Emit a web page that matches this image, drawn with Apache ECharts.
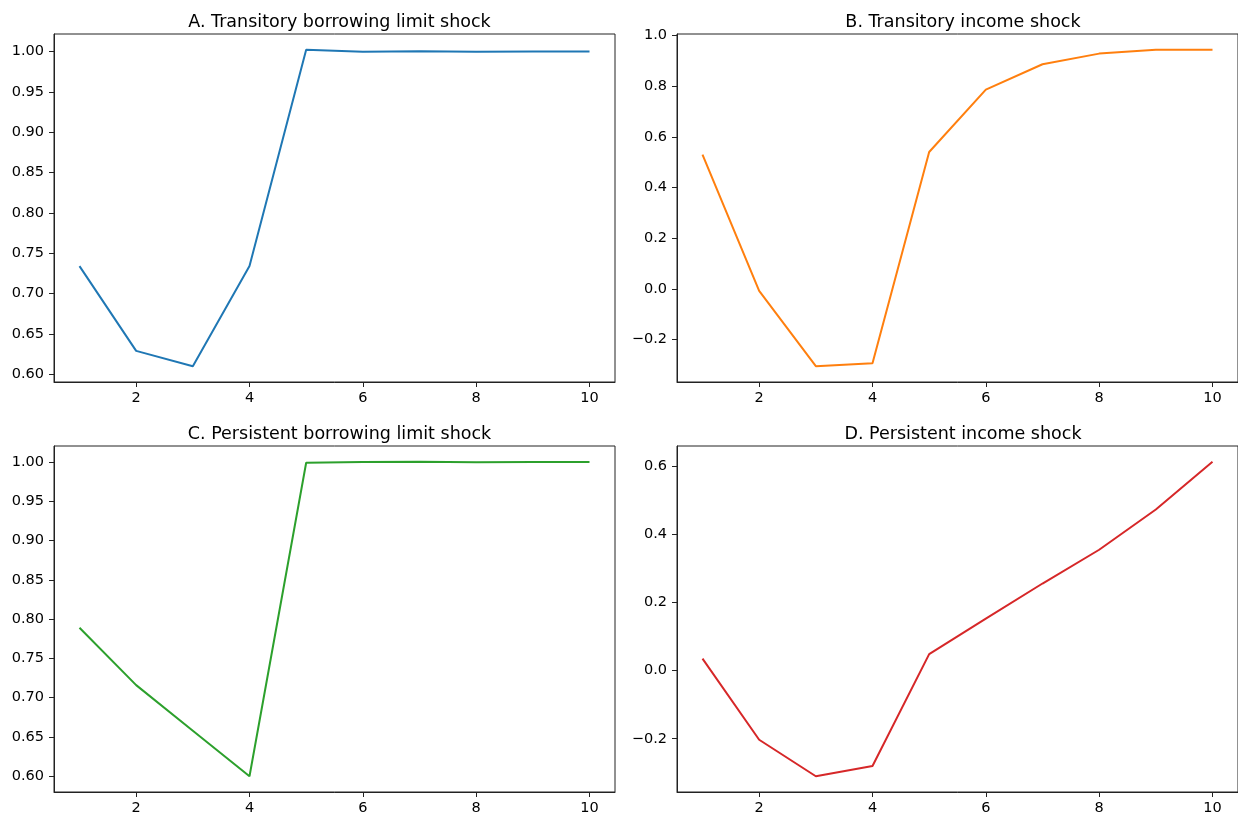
<!DOCTYPE html>
<html>
<head>
<meta charset="utf-8">
<script src="https://cdn.jsdelivr.net/npm/echarts@6/dist/echarts.min.js"></script>
<style>
html,body{margin:0;padding:0;background:#fff;}
#chart{width:1238px;height:816px;}
</style>
</head>
<body>
<div id="chart"></div>
<script>
// ---- data ----
const periods = [1, 2, 3, 4, 5, 6, 7, 8, 9, 10];
const titles = [
  "A. Transitory borrowing limit shock",
  "B. Transitory income shock",
  "C. Persistent borrowing limit shock",
  "D. Persistent income shock"
];
const transitoryBorrowing = [0.734, 0.629, 0.610, 0.734, 1.002, 0.9995, 1.0003, 0.9995, 1.0, 1.0];
const transitoryIncome    = [0.530, -0.008, -0.305, -0.293, 0.540, 0.786, 0.886, 0.928, 0.943, 0.943];
const persistentBorrowing = [0.789, 0.716, 0.658, 0.600, 0.999, 1.0, 1.0003, 0.9995, 1.0, 0.9998];
const persistentIncome    = [0.035, -0.203, -0.310, -0.280, 0.048, 0.152, 0.255, 0.354, 0.472, 0.612];
const xTicks = [2, 4, 6, 8, 10];
const yTicksA = [0.60, 0.65, 0.70, 0.75, 0.80, 0.85, 0.90, 0.95, 1.00];
const yTicksB = [-0.2, 0.0, 0.2, 0.4, 0.6, 0.8, 1.0];
const yTicksC = [0.60, 0.65, 0.70, 0.75, 0.80, 0.85, 0.90, 0.95, 1.00];
const yTicksD = [-0.2, 0.0, 0.2, 0.4, 0.6];

const seriesData = [transitoryBorrowing, transitoryIncome, persistentBorrowing, persistentIncome];
const yTicks = [yTicksA, yTicksB, yTicksC, yTicksD];
const decimals = [2, 1, 2, 1];
const colors = ['#1f77b4', '#ff7f0e', '#2ca02c', '#d62728'];

// ---- layout ----
const grids = [
  {left: 54, top: 34, width: 561, height: 348},
  {left: 677, top: 34, width: 562, height: 348},
  {left: 54, top: 446, width: 561, height: 347},
  {left: 677, top: 446, width: 562, height: 347}
];

const FONT = 'DejaVu Sans';
function margins(arr) {
  const lo = Math.min(...arr), hi = Math.max(...arr);
  const m = (hi - lo) * 0.05;
  return [lo - m, hi + m];
}
const xr = margins(periods);

const option = {
  backgroundColor: '#ffffff',
  animation: false,
  title: titles.map((t, i) => ({
    text: t,
    left: grids[i].left + grids[i].width / 2,
    top: grids[i].top - 26,
    textAlign: 'center',
    textStyle: {fontFamily: FONT, fontSize: 17.5, fontWeight: 'normal', color: '#000'}
  })),
  grid: grids.map(g => Object.assign({show: true, borderColor: '#222', borderWidth: 1, backgroundColor: 'transparent'}, g)),
  xAxis: grids.map((g, i) => ({
    type: 'value', gridIndex: i, min: xr[0], max: xr[1],
    splitLine: {show: false},
    axisLine: {show: true, onZero: false, lineStyle: {color: '#222', width: 1}},
    axisTick: {show: true, length: 5, inside: false, customValues: xTicks, lineStyle: {color: '#222', width: 1}},
    axisLabel: {show: true, margin: 9, customValues: xTicks, fontFamily: FONT, fontSize: 14.5, color: '#000',
      formatter: v => String(Math.round(v))}
  })),
  yAxis: grids.map((g, i) => {
    const yr = margins(seriesData[i]);
    return {
      type: 'value', gridIndex: i, min: yr[0], max: yr[1],
      splitLine: {show: false},
      axisLine: {show: true, onZero: false, lineStyle: {color: '#222', width: 1}},
      axisTick: {show: true, length: 5, inside: false, customValues: yTicks[i], lineStyle: {color: '#222', width: 1}},
      axisLabel: {show: true, margin: 10, customValues: yTicks[i], fontFamily: FONT, fontSize: 14.5, color: '#000',
        formatter: v => v.toFixed(decimals[i]).replace('-', '\u2212')}
    };
  }),
  series: seriesData.map((d, i) => ({
    type: 'line', xAxisIndex: i, yAxisIndex: i,
    data: periods.map((p, k) => [p, d[k]]),
    showSymbol: false, symbol: 'none',
    lineStyle: {color: colors[i], width: 2},
    itemStyle: {color: colors[i]}
  }))
};

const chart = echarts.init(document.getElementById('chart'), null, {renderer: 'canvas'});
chart.setOption(option);
</script>
</body>
</html>
